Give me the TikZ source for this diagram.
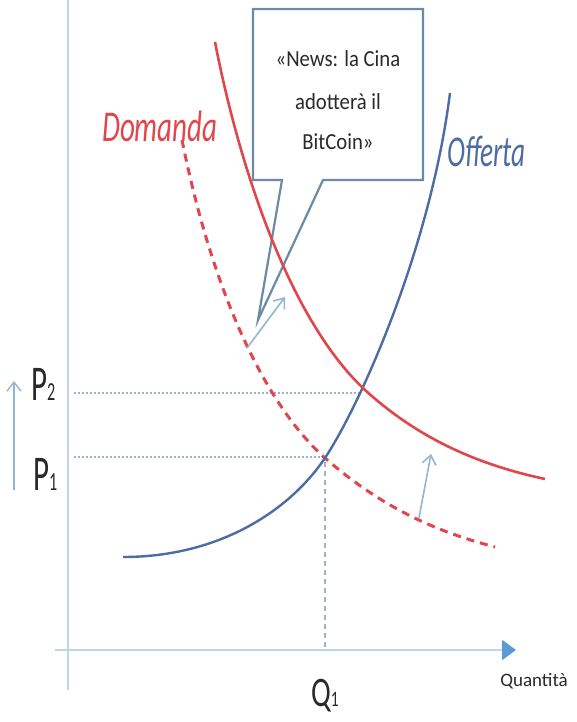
\documentclass[tikz,border=0pt]{standalone}
\usepackage{fontspec}
\setmainfont{Carlito}
\usetikzlibrary{arrows.meta}
\definecolor{axisc}{HTML}{BCD6E6}
\definecolor{headc}{HTML}{5B9BD5}
\definecolor{dotc}{HTML}{9FB2C2}
\definecolor{redc}{HTML}{E0464B}
\definecolor{bluec}{HTML}{4D6CA3}
\definecolor{callc}{HTML}{6A8AA6}
\definecolor{arrc}{HTML}{93B7D1}
\definecolor{txtc}{HTML}{2A2A2A}
\tikzset{
  axisline/.style={draw=axisc, line width=2.2pt},
  guide/.style={draw=dotc, line width=1.6pt, dash pattern=on 2pt off 2pt},
  demand/.style={draw=redc, line width=2.6pt},
  olddemand/.style={draw=redc, line width=3pt, dash pattern=on 8pt off 6pt},
  supply/.style={draw=bluec, line width=2.4pt},
  shiftarrow/.style={draw=arrc, line width=1.6pt, -{Straight Barb[length=9pt,width=14pt,line width=1.6pt]}},
  biglabel/.style={text=txtc, inner sep=0pt, font=\fontsize{50}{50}\selectfont},
  curvelabel/.style={inner sep=0pt, font=\fontsize{44}{44}\selectfont\itshape},
  calltext/.style={text=txtc, inner sep=0pt, font=\fontsize{23}{23}\selectfont, anchor=base},
}
\begin{document}
\begin{tikzpicture}[x=1pt,y=-1pt]
\useasboundingbox (0,0) rectangle (576,722);
\fill[white] (0,0) rectangle (576,722);

% axes
\coordinate (ytop) at (68,0);
\coordinate (ybot) at (68,690);
\coordinate (xl) at (55,650);
\coordinate (xr) at (516,650);
\draw[axisline] (ytop) -- (ybot);
\draw[axisline, -{Triangle[length=14pt,width=20pt,fill=headc,color=headc]}] (xl) -- (xr);
\node[text=txtc, inner sep=0pt, font=\fontsize{19}{19}\selectfont, anchor=base] (qlab) at (534,686) {Quantità};

% callout
\coordinate (c1) at (253,9);
\coordinate (c2) at (423,9);
\coordinate (c3) at (423,180);
\coordinate (c4) at (323,180);
\coordinate (ctip) at (258,320);
\coordinate (c5) at (282,180);
\coordinate (c6) at (253,180);
\draw[draw=callc, line width=2.2pt, fill=white, line join=miter]
  (c1) -- (c2) -- (c3) -- (c4) -- (ctip) -- (c5) -- (c6) -- cycle;
\node[calltext] (news1) at (338,67) {\scalebox{0.9}[1]{«News: la Cina}};
\node[calltext] (news2) at (338,110) {\scalebox{0.9}[1]{adotterà il}};
\node[calltext] (news3) at (338,150) {\scalebox{0.9}[1]{BitCoin»}};

% guide lines
\coordinate (p2a) at (74,393);
\coordinate (p2b) at (362,393);
\coordinate (p1a) at (74,457);
\coordinate (p1b) at (323,457);
\coordinate (q1a) at (325,462);
\coordinate (q1b) at (325,648);
\draw[guide] (p2a) -- (p2b);
\draw[guide] (p1a) -- (p1b);
\draw[draw=dotc, line width=1.4pt, dash pattern=on 5pt off 4pt] (q1a) -- (q1b);

% old demand (dashed)
\coordinate (d0) at (182,140);
\coordinate (e1) at (325,458);
\coordinate (d2) at (495,547);
\draw[olddemand] (d0) .. controls (210,280) and (260,400) .. (e1)
  .. controls (390,515) and (450,535) .. (d2);

% supply
\coordinate (s0) at (123,557);
\coordinate (s2) at (450,93);
\draw[supply] (s0) .. controls (220,557) and (290,510) .. (e1)
  .. controls (360,405) and (430,250) .. (s2);

% new demand
\coordinate (n0) at (215,42);
\coordinate (e2) at (365,390);
\coordinate (n2) at (545,479);
\draw[demand] (n0) .. controls (240,170) and (290,320) .. (e2)
  .. controls (420,440) and (480,465) .. (n2);

% shift arrows
\coordinate (s1a) at (247,348);
\coordinate (s1b) at (285,297);
\coordinate (s2a) at (419,518);
\coordinate (s2b) at (431,454);
\draw[shiftarrow] (s1a) -- (s1b);
\draw[shiftarrow] (s2a) -- (s2b);

% price arrow
\coordinate (pa) at (14,490);
\coordinate (pb) at (14,381);
\draw[draw=arrc, line width=1.4pt, -{Straight Barb[length=9pt,width=14pt,line width=1.4pt]}] (pa) -- (pb);

% labels
\node[biglabel, anchor=base west] (P2) at (31,400) {\scalebox{0.62}[1]{P\fontsize{26}{26}\selectfont 2}};
\node[biglabel, anchor=base west] (P1) at (33,490) {\scalebox{0.62}[1]{P\fontsize{26}{26}\selectfont 1}};
\node[biglabel, anchor=base, font=\fontsize{42}{42}\selectfont] (Q1) at (325,706) {\scalebox{0.7}[1]{Q\fontsize{22}{22}\selectfont 1}};
\node[curvelabel, text=redc, anchor=base west] (dom) at (102,142) {\scalebox{0.66}[1]{Domanda}};
\node[curvelabel, text=bluec, anchor=base west] (off) at (447,167) {\scalebox{0.62}[1]{Offerta}};
\end{tikzpicture}
\end{document}
